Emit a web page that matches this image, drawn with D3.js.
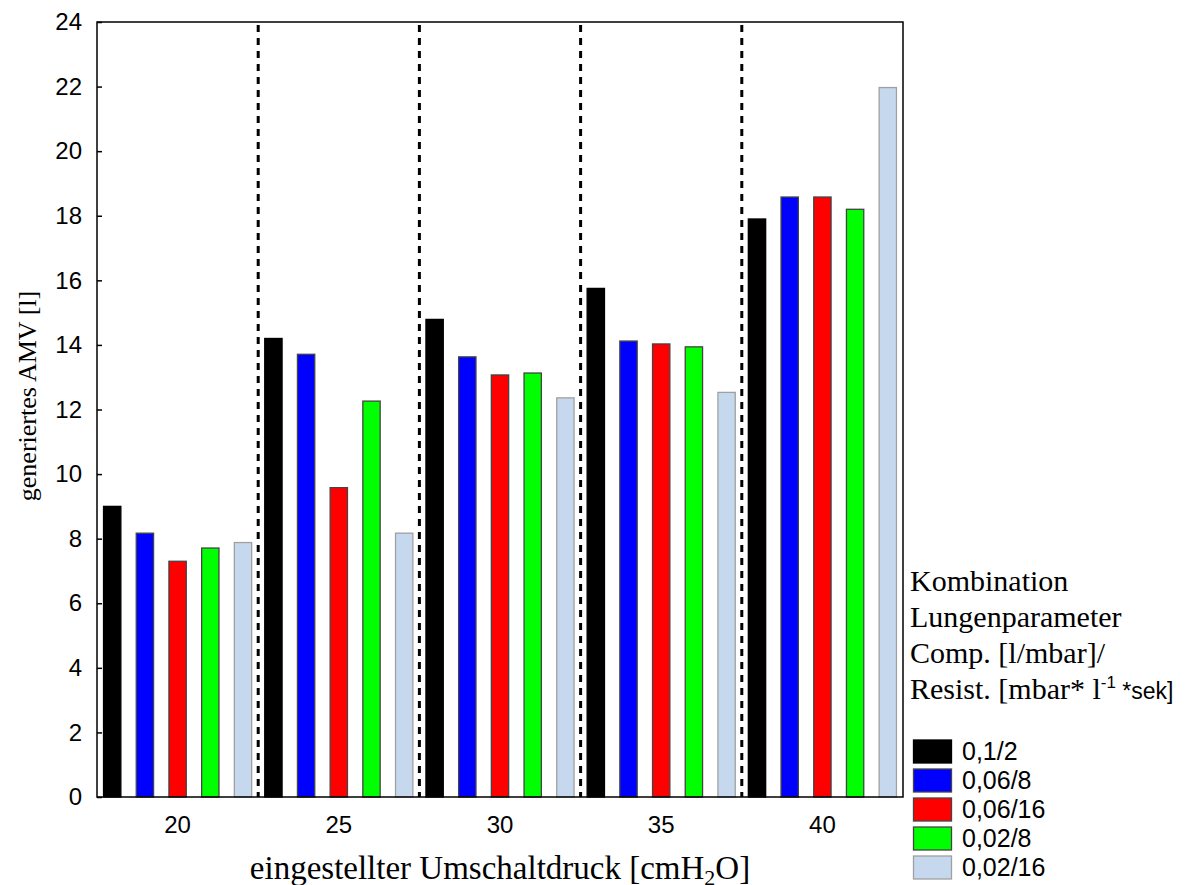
<!DOCTYPE html>
<html>
<head>
<meta charset="utf-8">
<script src="https://cdn.jsdelivr.net/npm/d3@7"></script>
<style>
  body { margin: 0; background: #fff; }
  svg { display: block; }
  .tick text { font-family: "Liberation Sans", Arial, sans-serif; }
</style>
</head>
<body>
<div id="chart"></div>
<script>
// daten
let drucke = ["20", "25", "30", "35", "40"];
let kombis = ["0,1/2", "0,06/8", "0,06/16", "0,02/8", "0,02/16"];
let werte_01_2   = [9.0, 14.2, 14.79, 15.75, 17.9];
let werte_006_8  = [8.17, 13.71, 13.63, 14.12, 18.58];
let werte_006_16 = [7.3, 9.58, 13.07, 14.03, 18.58];
let werte_002_8  = [7.71, 12.26, 13.13, 13.94, 18.2];
let werte_002_16 = [7.88, 8.17, 12.36, 12.53, 21.97];
let yTicks = [0, 2, 4, 6, 8, 10, 12, 14, 16, 18, 20, 22, 24];

let farben = ["#000000", "#0000ff", "#ff0000", "#00ff00", "#c6d8ee"];
let raender = ["#000000", "#444444", "#444444", "#444444", "#a0a0a0"];

let reihen = [werte_01_2, werte_006_8, werte_006_16, werte_002_8, werte_002_16];

let W = 1193, H = 885;
let m = {left: 97, top: 22, right: 903, bottom: 797};

let svg = d3.select("#chart").append("svg")
    .attr("width", W)
    .attr("height", H);

let x0 = d3.scaleBand().domain(drucke).range([m.left, m.right]).padding(0);
let x1 = d3.scaleBand().domain(kombis).range([0, x0.bandwidth()])
    .paddingInner(0.47).paddingOuter(0.2);
let y = d3.scaleLinear().domain([0, 24]).range([m.bottom, m.top]);

// balken
let g = svg.append("g");
drucke.forEach((d, i) => {
    kombis.forEach((k, j) => {
        let v = reihen[j][i];
        g.append("rect")
            .attr("x", x0(d) + x1(k))
            .attr("y", y(v))
            .attr("width", x1.bandwidth())
            .attr("height", y(0) - y(v))
            .attr("fill", farben[j])
            .attr("stroke", raender[j])
            .attr("stroke-width", 1.3);
    });
});

// gestrichelte trennlinien
drucke.slice(1).forEach(d => {
    svg.append("line")
        .attr("x1", x0(d)).attr("x2", x0(d))
        .attr("y1", m.top + 3).attr("y2", m.bottom)
        .attr("stroke", "#000")
        .attr("stroke-width", 3)
        .attr("stroke-dasharray", "7,6");
});

// rahmen
svg.append("rect")
    .attr("x", m.left).attr("y", m.top)
    .attr("width", m.right - m.left).attr("height", m.bottom - m.top)
    .attr("fill", "none").attr("stroke", "#000").attr("stroke-width", 1.5);

// y achse
let yAxis = svg.append("g")
    .attr("transform", `translate(${m.left},0)`)
    .call(d3.axisRight(y).tickValues(yTicks).tickSize(5).tickFormat(d3.format("d")));
yAxis.select(".domain").remove();
yAxis.selectAll("line").attr("stroke-width", 1.5);
yAxis.selectAll("text")
    .attr("x", -15)
    .attr("text-anchor", "end")
    .attr("font-size", 24)
    .attr("fill", "#000");

// x achse
let xAxis = svg.append("g")
    .attr("transform", `translate(0,${m.bottom})`)
    .call(d3.axisBottom(x0).tickSize(0));
xAxis.select(".domain").remove();
xAxis.selectAll("text")
    .attr("y", 19)
    .attr("font-size", 24)
    .attr("fill", "#000");

// achsentitel
svg.append("text")
    .attr("x", 500).attr("y", 879)
    .attr("text-anchor", "middle")
    .attr("font-family", "Liberation Serif, Times New Roman, serif")
    .attr("font-size", 33)
    .html('eingestellter Umschaltdruck [cmH<tspan font-size="22" dy="6">2</tspan><tspan dy="-6">O]</tspan>');

svg.append("text")
    .attr("transform", "translate(36,396) rotate(-90)")
    .attr("text-anchor", "middle")
    .attr("font-family", "Liberation Serif, Times New Roman, serif")
    .attr("font-size", 26)
    .text("generiertes AMV [l]");

// legende titel
let titel = ["Kombination", "Lungenparameter", "Comp. [l/mbar]/"];
titel.forEach((t, i) => {
    svg.append("text")
        .attr("x", 910).attr("y", 591 + i * 36)
        .attr("font-family", "Liberation Serif, Times New Roman, serif")
        .attr("font-size", 30)
        .text(t);
});
svg.append("text")
    .attr("x", 910).attr("y", 699)
    .attr("font-family", "Liberation Serif, Times New Roman, serif")
    .attr("font-size", 30)
    .html('Resist. [mbar* l<tspan font-family="Liberation Sans, Arial, sans-serif" font-size="17" dy="-11">-1</tspan><tspan dy="11" font-family="Liberation Sans, Arial, sans-serif" font-size="23"> *sek]</tspan>');

// legende eintraege
kombis.forEach((k, j) => {
    let yy = 740 + j * 29;
    svg.append("rect")
        .attr("x", 913.5).attr("y", yy)
        .attr("width", 38).attr("height", 23)
        .attr("fill", farben[j])
        .attr("stroke", raender[j])
        .attr("stroke-width", 1.3);
    svg.append("text")
        .attr("x", 962).attr("y", yy + 20)
        .attr("font-family", "Liberation Sans, Arial, sans-serif")
        .attr("font-size", 25)
        .text(k);
});
</script>
</body>
</html>
